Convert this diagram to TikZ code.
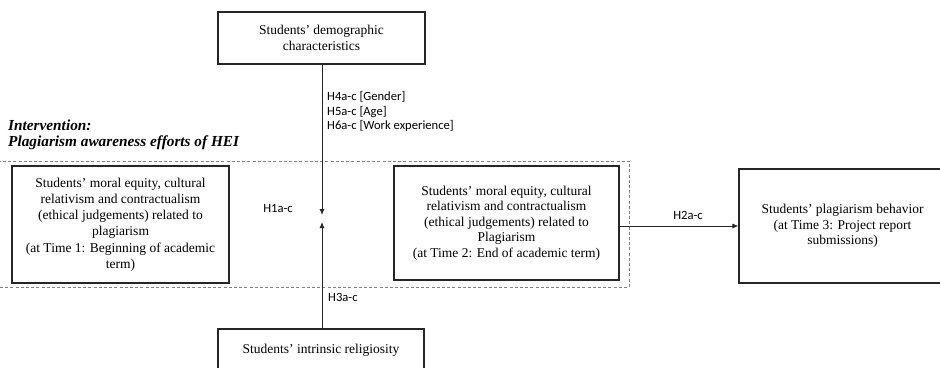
\documentclass[tikz,border=0pt]{standalone}
\usepackage{fontspec}
\setmainfont{Liberation Serif}
\newfontfamily\labfont{Carlito}
\usetikzlibrary{arrows.meta}
\tikzset{
  box/.style={draw=black!85, line width=1.1pt, align=center, inner sep=0pt,
    font=\fontsize{13.5}{16.2}\selectfont},
  lab/.style={font=\labfont\fontsize{12.6}{14.6}\selectfont, inner sep=0pt},
  conn/.style={draw=black!85, line width=0.9pt, -{Latex[length=6pt,width=5pt]}},
  frame/.style={draw=black!50, line width=1pt, dash pattern=on 3pt off 2.2pt}
}
\begin{document}
\begin{tikzpicture}[x=1pt,y=-1pt]
\useasboundingbox (0,0) rectangle (940,367);
\fill[white] (0,0) rectangle (940,367);
% intervention frame
\draw[frame] (-4,161) rectangle (629,287);
\node[anchor=west, align=left, inner sep=0pt, font=\fontsize{15.3}{16.5}\selectfont\bfseries\itshape] (title) at (8,135) {Intervention:\\Plagiarism awareness efforts of HEI};
% boxes
\node[box, minimum width=207pt, minimum height=52pt] (demo) at (321.5,38) {Students’ demographic\\characteristics};
\node[box, minimum width=217pt, minimum height=117pt] (ej1) at (120.5,224.5) {Students’ moral equity, cultural\\relativism and contractualism\\(ethical judgements) related to\\plagiarism\\(at Time 1: Beginning of academic\\term)};
\node[box, minimum width=225pt, minimum height=114pt, font=\fontsize{13.5}{15.4}\selectfont] (ej2) at (506.5,223) {Students’ moral equity, cultural\\relativism and contractualism\\(ethical judgements) related to\\Plagiarism\\(at Time 2: End of academic term)};
\node[box, minimum width=207pt, minimum height=114pt, font=\fontsize{13.5}{15.5}\selectfont] (beh) at (842.5,226) {Students’ plagiarism behavior\\(at Time 3: Project report\\submissions)};
\node[box, minimum width=206pt, minimum height=43pt] (rel) at (321,350.5) {Students’ intrinsic religiosity};
% connector ends
\coordinate (tipA) at (322,215);
\coordinate (tipB) at (322,222);
\draw[conn] (demo.south -| tipA) -- (tipA);
\draw[conn] (rel.north -| tipB) -- (tipB);
\draw[conn] (ej2.east |- beh.west) -- (beh.west);
% labels
\node[lab] (h1) at (278,208) {H1a-c};
\node[lab] (h2) at (688,215) {H2a-c};
\node[lab, anchor=west] (h3) at (328,297) {H3a-c};
\node[lab, anchor=west, align=left] (h46) at (327,111.5) {H4a-c [Gender]\\H5a-c [Age]\\H6a-c [Work experience]};
\end{tikzpicture}
\end{document}
